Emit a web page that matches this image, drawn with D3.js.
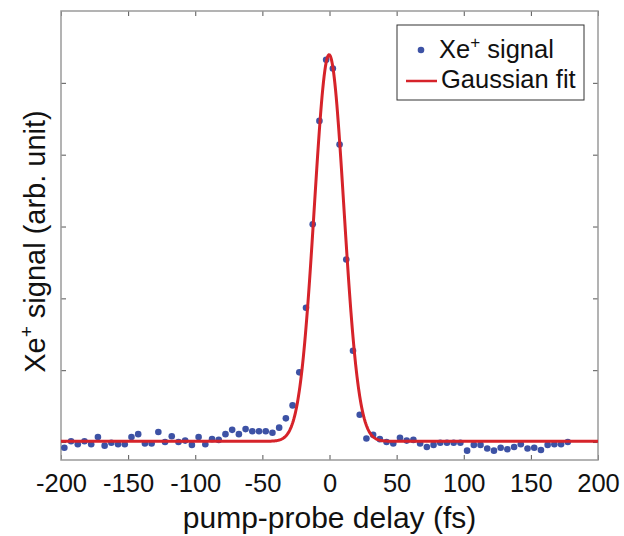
<!DOCTYPE html>
<html>
<head>
<meta charset="utf-8">
<script src="https://cdn.jsdelivr.net/npm/d3@7"></script>
<style>
  body { margin: 0; background: #fff; }
  svg text { font-family: "Liberation Sans", Arial, Helvetica, sans-serif; fill: #111; }
</style>
</head>
<body>
<div id="chart"></div>
<script>
// pump-probe delays (fs) of the measured points
var delays = [-197.5, -192.5, -187.5, -182.5, -177.5, -172.5, -167.5, -162.5, -157.5, -152.5,
    -147.5, -142.5, -137.5, -132.5, -127.5, -122.5, -117.5, -112.5, -107.5, -102.5,
    -97.5, -92.5, -87.5, -82.5, -77.5, -72.5, -67.5, -62.5, -57.5, -52.5,
    -47.5, -42.5, -37.5, -32.5, -27.5, -22.5, -17.5, -12.5, -7.5, -2.5,
    2.5, 7.5, 12.5, 17.5, 22.5, 27.5, 32.5, 37.5, 42.5, 47.5,
    52.5, 57.5, 62.5, 67.5, 72.5, 77.5, 82.5, 87.5, 92.5, 97.5,
    102.5, 107.5, 112.5, 117.5, 122.5, 127.5, 132.5, 137.5, 142.5, 147.5,
    152.5, 157.5, 162.5, 167.5, 172.5, 177.5];

// Xe+ signal (arb. unit)
var signal = [-0.08, 0.01, -0.03, 0.01, -0.03, 0.07, -0.05, -0.01, -0.03, -0.03,
    0.07, 0.11, -0.02, -0.02, 0.14, 0.00, 0.08, 0.00, 0.02, -0.04,
    0.07, -0.03, 0.04, 0.03, 0.11, 0.17, 0.11, 0.18, 0.15, 0.15,
    0.15, 0.13, 0.20, 0.33, 0.51, 0.97, 1.87, 3.03, 4.47, 5.32,
    5.20, 4.14, 2.54, 1.27, 0.38, 0.05, 0.10, 0.04, 0.00, -0.02,
    0.06, 0.02, 0.03, -0.02, -0.07, -0.04, -0.01, -0.01, -0.01, -0.01,
    -0.12, -0.04, -0.04, -0.09, -0.12, -0.08, -0.10, -0.07, -0.03, -0.09,
    -0.08, -0.11, -0.04, -0.03, -0.03, 0.00];

// gaussian fit parameters
var fitAmp = 5.38, fitCenter = -0.3, fitSigma = 11, fitOffset = 0.01;

var xTicks = [-200, -150, -100, -50, 0, 50, 100, 150, 200];
var yTicks = [0, 1, 2, 3, 4, 5];

var W = 624, H = 536;
var margin = { top: 11, right: 26, bottom: 76, left: 61 };
var width = W - margin.left - margin.right,
    height = H - margin.top - margin.bottom;

var svg = d3.select("#chart").append("svg")
    .attr("width", W)
    .attr("height", H);

var g = svg.append("g")
    .attr("transform", "translate(" + margin.left + "," + margin.top + ")");

var x = d3.scaleLinear().domain([-200, 200]).range([0, width]);
var y = d3.scaleLinear().domain([-0.25, 6]).range([height, 0]);

g.append("clipPath").attr("id", "plot-clip")
    .append("rect").attr("width", width).attr("height", height);

// axes, ticks pointing inward
var tickLen = 5;
var bottomAxis = d3.axisBottom(x).tickValues(xTicks).tickSize(-tickLen).tickPadding(14);
var topAxis = d3.axisTop(x).tickValues(xTicks).tickSize(-tickLen).tickFormat("");
var leftAxis = d3.axisLeft(y).tickValues(yTicks).tickSize(-tickLen).tickFormat("");
var rightAxis = d3.axisRight(y).tickValues(yTicks).tickSize(-tickLen).tickFormat("");

function styleAxis(sel) {
    sel.select(".domain").remove();
    sel.selectAll(".tick line").attr("stroke", "#555").attr("stroke-width", 1);
}

g.append("g").attr("class", "x-axis")
    .attr("transform", "translate(0," + height + ")")
    .call(bottomAxis).call(styleAxis)
    .selectAll("text")
    .style("font-size", "25.5px")
    .attr("fill", "#111")
    .text(function(d) { return d < 0 ? "-" + Math.abs(d) : d; });

g.append("g").call(topAxis).call(styleAxis);
g.append("g").call(leftAxis).call(styleAxis);
g.append("g").attr("transform", "translate(" + width + ",0)").call(rightAxis).call(styleAxis);

// frame
g.append("rect")
    .attr("width", width)
    .attr("height", height)
    .attr("fill", "none")
    .attr("stroke", "#9a9a9a")
    .attr("stroke-width", 1.5);

// data points
var points = delays.map(function(d, i) { return { t: d, v: signal[i] }; });

g.append("g").attr("class", "points")
    .selectAll("circle")
    .data(points)
    .enter().append("circle")
    .attr("cx", function(d) { return x(d.t); })
    .attr("cy", function(d) { return y(d.v); })
    .attr("r", 3.3)
    .attr("fill", "#3d52a5");

// gaussian fit curve
var fitT = d3.range(-200, 200.5, 0.5);
var fitLine = d3.line()
    .x(function(t) { return x(t); })
    .y(function(t) {
        return y(fitOffset + fitAmp * Math.exp(-Math.pow(t - fitCenter, 2) / (2 * fitSigma * fitSigma)));
    });

g.append("path")
    .datum(fitT)
    .attr("clip-path", "url(#plot-clip)")
    .attr("d", fitLine)
    .attr("fill", "none")
    .attr("stroke", "#d6232a")
    .attr("stroke-width", 3);

// axis titles
svg.append("text")
    .attr("x", margin.left + width / 2)
    .attr("y", 528)
    .attr("text-anchor", "middle")
    .style("font-size", "30px")
    .text("pump-probe delay (fs)");

var yLabel = svg.append("text")
    .attr("transform", "translate(45," + (margin.top + height / 2 + 6) + ") rotate(-90)")
    .attr("text-anchor", "middle")
    .style("font-size", "29px");
yLabel.append("tspan").text("Xe");
yLabel.append("tspan").attr("dy", -12).style("font-size", "19px").text("+");
yLabel.append("tspan").attr("dy", 12).text(" signal (arb. unit)");

// legend
var legend = svg.append("g").attr("class", "legend");
legend.append("rect")
    .attr("x", 397).attr("y", 25)
    .attr("width", 187).attr("height", 75)
    .attr("fill", "#fff")
    .attr("stroke", "#333")
    .attr("stroke-width", 1);

legend.append("circle")
    .attr("cx", 421).attr("cy", 50)
    .attr("r", 3.3)
    .attr("fill", "#3d52a5");

legend.append("line")
    .attr("x1", 406).attr("x2", 437)
    .attr("y1", 81).attr("y2", 81)
    .attr("stroke", "#d6232a")
    .attr("stroke-width", 2.5);

var l1 = legend.append("text")
    .attr("x", 439).attr("y", 58)
    .style("font-size", "25.5px");
l1.append("tspan").text("Xe");
l1.append("tspan").attr("dy", -10).style("font-size", "17px").text("+");
l1.append("tspan").attr("dy", 10).text(" signal");

legend.append("text")
    .attr("x", 441).attr("y", 88)
    .style("font-size", "25.5px")
    .text("Gaussian fit");
</script>
</body>
</html>
